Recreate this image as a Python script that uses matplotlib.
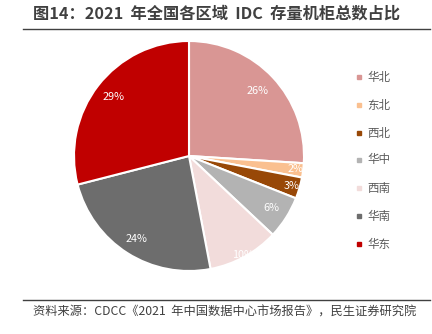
import matplotlib
matplotlib.use("Agg")
import matplotlib.pyplot as plt
from matplotlib.lines import Line2D
import numpy as np

plt.rcParams['font.family'] = ['Noto Sans CJK SC', 'DejaVu Sans']

title = "图14：2021  年全国各区域  IDC  存量机柜总数占比"
source = "资料来源：CDCC《2021  年中国数据中心市场报告》，民生证券研究院"
categories = ["华北", "东北", "西北", "华中", "西南", "华南", "华东"]
values = [26, 2, 3, 6, 10, 24, 29]
colors = ["#D99694", "#FAC090", "#984807", "#B3B3B3", "#F2DCDB", "#6D6D6D", "#C00000"]
label_r = [0.82, 0.93, 0.93, 0.85, 0.98, 0.85, 0.83]

fig = plt.figure(figsize=(4.32, 3.34), dpi=100)
W, H = 432, 334

# title and rules
fig.text(33 / W, 1 - 14 / H, title, fontsize=11.7, fontweight='bold', color='#404040',
         ha='left', va='center')
fig.add_artist(Line2D([23 / W, 430 / W], [1 - 29 / H, 1 - 29 / H], color='#404040', lw=1.0))
fig.add_artist(Line2D([23 / W, 430 / W], [1 - 300 / H, 1 - 300 / H], color='#404040', lw=1.0))
fig.text(33 / W, 1 - 312 / H, source, fontsize=8.8, color='#404040', ha='left', va='center')

# pie
cx, cy, r = 189, 156, 115
ax = fig.add_axes([(cx - r) / W, 1 - (cy + r) / H, 2 * r / W, 2 * r / H])
wedges, texts = ax.pie(values, colors=colors, startangle=90, counterclock=False,
                       wedgeprops=dict(edgecolor='white', linewidth=1.5))
theta = 90.0
for v, rr in zip(values, label_r):
    mid = theta - v * 3.6 / 2
    theta -= v * 3.6
    ax.text(rr * np.cos(np.radians(mid)), rr * np.sin(np.radians(mid)), f"{v}%",
            color='white', fontsize=7.8, ha='center', va='center')
ax.set_aspect('equal')
ax.set_xlim(-1, 1)
ax.set_ylim(-1, 1)

# legend
ys = [77, 105, 133, 160, 188, 216, 244]
for cat, col, y in zip(categories, colors, ys):
    fig.add_artist(Line2D([359 / W], [1 - y / H], marker='s', markersize=3.5,
                          color=col, linestyle='none'))
    fig.text(367 / W, 1 - y / H, cat, fontsize=8.3, color='#595959', ha='left', va='center')

fig.savefig("out.png", dpi=100)
